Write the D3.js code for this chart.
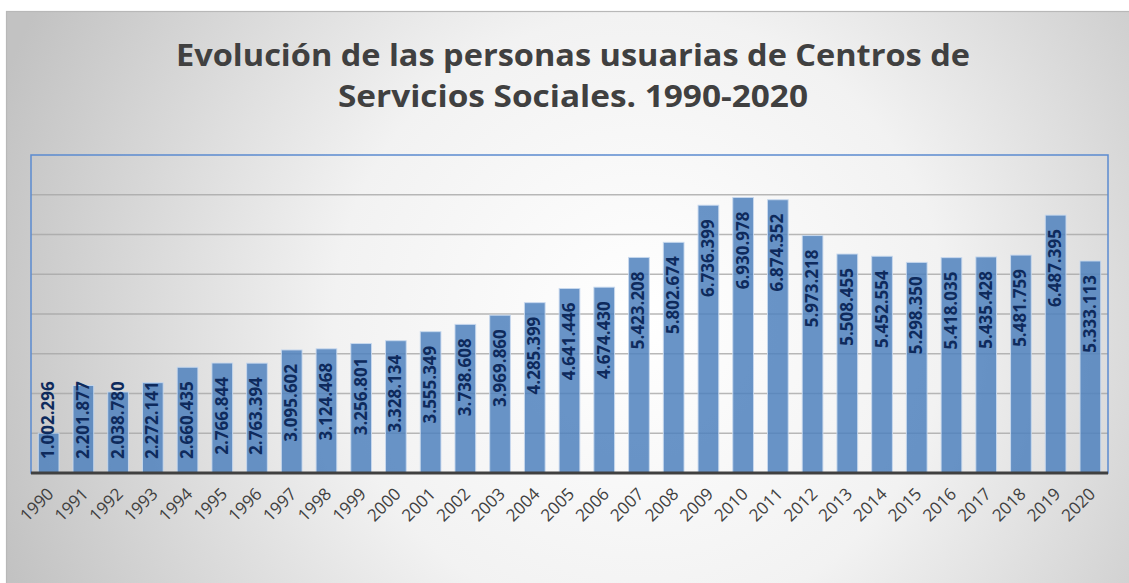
<!DOCTYPE html>
<html>
<head>
<meta charset="utf-8">
<script src="https://cdn.jsdelivr.net/npm/d3@7"></script>
<style>
  html, body { margin: 0; padding: 0; background: #ffffff; }
  svg { display: block; }
</style>
</head>
<body>
<svg id="chart" width="1129" height="583"></svg>
<script>
const years = ["1990","1991","1992","1993","1994","1995","1996","1997","1998","1999","2000","2001","2002","2003","2004","2005","2006","2007","2008","2009","2010","2011","2012","2013","2014","2015","2016","2017","2018","2019","2020"];
const usuarios = [1002296,2201877,2038780,2272141,2660435,2766844,2763394,3095602,3124468,3256801,3328134,3555349,3738608,3969860,4285399,4641446,4674430,5423208,5802674,6736399,6930978,6874352,5973218,5508455,5452554,5298350,5418035,5435428,5481759,6487395,5333113];
const yTicks = [0,1000000,2000000,3000000,4000000,5000000,6000000,7000000,8000000];
const titleLines = ["Evolución de las personas usuarias de Centros de", "Servicios Sociales. 1990-2020"];

const data = years.map((y, i) => ({ year: y, value: usuarios[i] }));
const svg = d3.select("#chart");
const W = 1129, H = 583;

// background gradient
const defs = svg.append("defs");
const grad = defs.append("radialGradient").attr("id", "bg")
  .attr("gradientUnits", "userSpaceOnUse")
  .attr("cx", 640).attr("cy", 320).attr("r", 680);
grad.append("stop").attr("offset", "0%").attr("stop-color", "#ffffff");
grad.append("stop").attr("offset", "45%").attr("stop-color", "#f2f2f2");
grad.append("stop").attr("offset", "100%").attr("stop-color", "#c2c2c2");

svg.append("rect").attr("x", 6.5).attr("y", 11.5).attr("width", W).attr("height", H)
  .attr("fill", "url(#bg)").attr("stroke", "#b8b8b8").attr("stroke-width", 1.2);

const plot = { left: 31, right: 1108, top: 155, bottom: 473 };

const x = d3.scaleBand().domain(years).range([plot.left, plot.right])
  .paddingInner(0.404).paddingOuter(0.21);
const y = d3.scaleLinear().domain([0, 8000000]).range([plot.bottom, plot.top]);

// gridlines
svg.append("g").selectAll("line").data(yTicks.filter(t => t > 0 && t < 8000000)).join("line")
  .attr("x1", plot.left).attr("x2", plot.right)
  .attr("y1", d => y(d)).attr("y2", d => y(d))
  .attr("stroke", "#a6a6a6").attr("stroke-width", 1.3).attr("stroke-opacity", 0.8);

// plot area border
svg.append("rect").attr("x", plot.left).attr("y", plot.top)
  .attr("width", plot.right - plot.left).attr("height", plot.bottom - plot.top)
  .attr("fill", "none").attr("stroke", "#5b8bd0").attr("stroke-width", 1.5);

// bars
svg.append("g").selectAll("rect").data(data).join("rect")
  .attr("x", d => x(d.year)).attr("width", x.bandwidth())
  .attr("y", d => y(d.value)).attr("height", d => y(0) - y(d.value))
  .attr("fill", "#4f81bd").attr("fill-opacity", 0.85)
  .attr("stroke", "#c9d9ee").attr("stroke-width", 1).attr("stroke-opacity", 0.9);

// x axis line
svg.append("line").attr("x1", plot.left).attr("x2", plot.right)
  .attr("y1", plot.bottom).attr("y2", plot.bottom)
  .attr("stroke", "#404040").attr("stroke-width", 3);

// value labels
const loc = d3.formatLocale({ decimal: ",", thousands: ".", grouping: [3], currency: ["", "€"] });
const fmt = loc.format(",d");
const lab = svg.append("g").selectAll("text").data(data).join("text")
  .attr("font-family", "'Open Sans', sans-serif").attr("font-weight", "bold")
  .attr("font-size", 17).attr("fill", "#0e2a5c")
  .attr("dominant-baseline", "central")
  .text(d => fmt(d.value));
lab.each(function(d) {
  const len = this.getComputedTextLength();
  const cx = x(d.year) + x.bandwidth() / 2 - 1;
  let topY = y(d.value) + 14;
  const maxBottom = plot.bottom - 14;
  if (topY + len > maxBottom) topY = maxBottom - len;
  d3.select(this).attr("text-anchor", "start")
    .attr("transform", `translate(${cx},${topY + len}) rotate(-90)`);
});

// x tick labels
svg.append("g").selectAll("text").data(years).join("text")
  .attr("font-family", "'Open Sans', sans-serif").attr("font-size", 17)
  .attr("fill", "#404040").attr("text-anchor", "end")
  .attr("transform", d => `translate(${x(d) + x.bandwidth() / 2 + 6},${plot.bottom + 22}) rotate(-45)`)
  .text(d => d);

// title
const titleBase = [66, 107];
const titleWidth = [794, 470];
titleLines.forEach((t, i) => {
  svg.append("text").attr("x", 573).attr("y", titleBase[i])
    .attr("text-anchor", "middle")
    .attr("font-family", "'Open Sans', sans-serif").attr("font-weight", "bold")
    .attr("font-size", 31).attr("fill", "#404040")
    .attr("textLength", titleWidth[i]).attr("lengthAdjust", "spacingAndGlyphs")
    .text(t);
});
</script>
</body>
</html>
